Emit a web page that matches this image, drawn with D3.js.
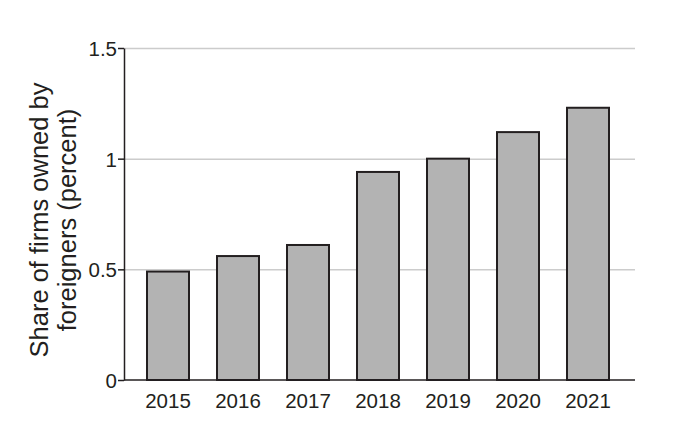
<!DOCTYPE html>
<html>
<head>
<meta charset="utf-8">
<title>Share of firms owned by foreigners</title>
<style>
  body { margin:0; background:#fff; }
  svg { display:block; }
  text { font-family:"Liberation Sans", Arial, sans-serif; fill:#231f20; }
  .grid line { stroke:#cccccc; stroke-width:1.5; }
  .grid path { display:none; }
  .axisY path, .axisY line, .axisX path { stroke:#231f20; stroke-width:1.5; }
  .axisX line { display:none; }
  .axisY text { font-size:20.5px; }
  .axisX text { font-size:20.5px; }
  .bar { fill:#b3b3b3; stroke:#231f20; stroke-width:2; }
  .ylabel { font-size:25.5px; text-anchor:middle; }
</style>
<script src="https://d3js.org/d3.v7.min.js"></script>
</head>
<body>
<svg id="chart" width="674" height="435"></svg>
<script>
// data
var years  = ["2015","2016","2017","2018","2019","2020","2021"];
var shares = [0.49, 0.56, 0.61, 0.94, 1.0, 1.12, 1.23];
var yTicks = [0, 0.5, 1, 1.5];
var yTickLabels = ["0", "0.5", "1", "1.5"];

var svg = d3.select("#chart");

var xLeft = 124, xRight = 635;   // plot area
var yTop = 48, yBottom = 380;

var x = d3.scaleBand()
  .domain(years)
  .range([133, 623])
  .paddingInner(0.4)
  .paddingOuter(0.2);

var y = d3.scaleLinear()
  .domain([0, 1.5])
  .range([yBottom, yTop]);

// horizontal gridlines
svg.append("g")
  .attr("class", "grid")
  .attr("transform", "translate(" + xLeft + ",0)")
  .call(d3.axisRight(y).tickValues(yTicks.slice(1)).tickSize(xRight - xLeft).tickFormat(""));

// bars
svg.selectAll("rect.bar")
  .data(shares)
  .enter()
  .append("rect")
  .attr("class", "bar")
  .attr("x", function(d, i) { return x(years[i]); })
  .attr("width", x.bandwidth())
  .attr("y", function(d) { return y(d); })
  .attr("height", function(d) { return yBottom - y(d); });

// x axis (baseline only, no ticks)
var gx = svg.append("g")
  .attr("class", "axisX")
  .attr("transform", "translate(0," + yBottom + ")")
  .call(d3.axisBottom(x).tickSize(0).tickSizeOuter(0).tickPadding(13));
gx.select(".domain").attr("d", "M" + xLeft + ",0H" + xRight);

// y axis
var gy = svg.append("g")
  .attr("class", "axisY")
  .attr("transform", "translate(" + xLeft + ",0)")
  .call(d3.axisLeft(y).tickValues(yTicks).tickSize(6).tickSizeOuter(0).tickPadding(1)
    .tickFormat(function(d, i) { return yTickLabels[i]; }));
gy.selectAll("text").attr("dy", "0.36em");

// y axis title
var label = svg.append("text")
  .attr("class", "ylabel")
  .attr("transform", "translate(48,220) rotate(-90)");
label.append("tspan").attr("x", 0).attr("dy", 0).text("Share of firms owned by");
label.append("tspan").attr("x", 0).attr("dy", 28).text("foreigners (percent)");
</script>
</body>
</html>
